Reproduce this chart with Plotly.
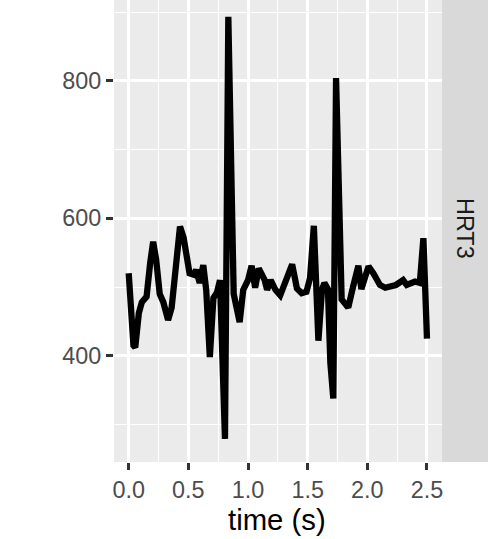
import plotly.graph_objects as go

# ---- data ----
time_s = [0.000, 0.040, 0.055, 0.085, 0.110, 0.150, 0.180, 0.205, 0.230, 0.260,
          0.290, 0.330, 0.360, 0.400, 0.430, 0.460, 0.490, 0.510, 0.545, 0.565,
          0.595, 0.625, 0.650, 0.680, 0.710, 0.740, 0.765, 0.807, 0.835, 0.880,
          0.930, 0.960, 1.000, 1.030, 1.060, 1.090, 1.140, 1.160, 1.190, 1.230,
          1.270, 1.310, 1.370, 1.410, 1.450, 1.490, 1.520, 1.552, 1.590, 1.620,
          1.640, 1.670, 1.690, 1.715, 1.738, 1.785, 1.840, 1.880, 1.925, 1.950,
          2.010, 2.050, 2.106, 2.150, 2.200, 2.240, 2.300, 2.330, 2.400, 2.440,
          2.470, 2.500]
signal = [520, 415, 412, 462, 478, 486, 535, 566, 540, 490,
          478, 452, 470, 540, 588, 572, 540, 520, 518, 525,
          506, 532, 495, 398, 484, 492, 510, 279, 893, 490,
          449, 496, 510, 531, 499, 527, 510, 496, 510, 496,
          488, 508, 533, 498, 491, 493, 513, 589, 422, 496,
          506, 497, 390, 338, 804, 482, 470, 500, 531, 497,
          530, 520, 503, 499, 500, 503, 510, 503, 508, 506,
          571, 425]
facet_label = "HRT3"
x_title = "time (s)"
x_ticks = [0.0, 0.5, 1.0, 1.5, 2.0, 2.5]
x_ticklabels = ["0.0", "0.5", "1.0", "1.5", "2.0", "2.5"]
y_ticks = [400, 600, 800]
y_ticklabels = ["400", "600", "800"]

# ---- layout geometry (px) ----
W, H = 497, 539
L, R, T, B = 114, 442, 0, 462
strip_r = 488
pw, ph = R - L, B - T

FONT = "Liberation Sans, Arial, Helvetica, sans-serif"

fig = go.Figure()
fig.add_trace(go.Scatter(x=time_s, y=signal, mode="lines",
                         line=dict(color="black", width=6.3),
                         hoverinfo="skip", showlegend=False))

fig.update_layout(
    width=W, height=H,
    margin=dict(l=L, r=W - R, t=T, b=H - B, pad=0),
    paper_bgcolor="white", plot_bgcolor="#EBEBEB",
    font=dict(family=FONT),
    showlegend=False,
)

fig.update_xaxes(
    range=[-0.1232, 2.626], tickmode="array", tickvals=x_ticks, ticktext=x_ticklabels,
    ticks="outside", ticklen=7, tickwidth=2.7, tickcolor="#333333",
    tickfont=dict(size=23.4, color="#4D4D4D", family=FONT),
    showgrid=True, gridcolor="white", gridwidth=2.7,
    minor=dict(dtick=0.25, tick0=0, showgrid=True, gridcolor="white", gridwidth=1.3, ticks=""),
    zeroline=False, showline=False,
)
fig.update_yaxes(
    range=[245.5, 917.5], tickmode="array", tickvals=y_ticks, ticktext=y_ticklabels,
    ticks="outside", ticklen=7, tickwidth=2.7, tickcolor="#333333",
    tickfont=dict(size=23.4, color="#4D4D4D", family=FONT),
    showgrid=True, gridcolor="white", gridwidth=2.7,
    minor=dict(dtick=100, tick0=0, showgrid=True, gridcolor="white", gridwidth=1.3, ticks=""),
    zeroline=False, showline=False,
)

# facet strip on the right
fig.add_shape(type="rect", xref="paper", yref="paper",
              x0=1.0, x1=(strip_r - L) / pw, y0=0, y1=1,
              fillcolor="#D9D9D9", line=dict(width=0), layer="below")
fig.add_annotation(text=facet_label, xref="paper", yref="paper",
                   x=((R + strip_r) / 2 - L) / pw, y=(B - 228) / ph,
                   showarrow=False, textangle=90,
                   font=dict(size=23.4, color="#1A1A1A", family=FONT),
                   xanchor="center", yanchor="middle")

# x axis title
fig.add_annotation(text=x_title, xref="paper", yref="paper",
                   x=((229 + 325) / 2 - L) / pw, y=(B - 519) / ph,
                   showarrow=False, font=dict(size=29.3, color="black", family=FONT),
                   xanchor="center", yanchor="middle")

fig.write_html("out.html")
